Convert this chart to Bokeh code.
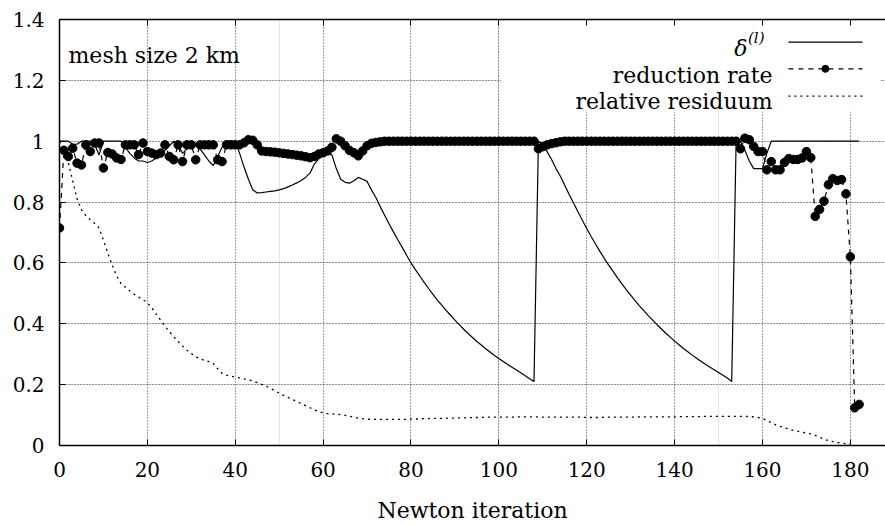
from bokeh.plotting import figure
from bokeh.models import LinearAxis, FixedTicker, Range1d, Grid
from bokeh.core.properties import value
from bokeh.embed import file_html
from bokeh.resources import INLINE

# ---------------- data ----------------
delta = [
    1.0, 1.0, 1.0, 0.99, 0.99, 1.0, 1.0, 1.0, 0.99, 0.955,
    1.0, 1.0, 1.0, 1.0, 1.0, 0.98, 0.96, 0.945, 0.935, 0.935,
    0.93, 0.935, 0.945, 0.955, 0.97, 0.985, 1.0, 0.99, 0.96, 0.975,
    0.99, 0.99, 0.975, 0.955, 0.935, 0.92, 0.95, 0.98, 1.0, 1.0,
    1.0, 0.96, 0.915, 0.875, 0.84, 0.83, 0.831, 0.833, 0.835, 0.837,
    0.84, 0.844, 0.85, 0.856, 0.863, 0.871, 0.881, 0.895, 0.925, 0.942,
    0.952, 0.958, 0.955, 0.91, 0.875, 0.865, 0.862, 0.87, 0.881, 0.875,
    0.868, 0.84, 0.815, 0.785, 0.757, 0.729, 0.702, 0.676, 0.651, 0.625,
    0.60, 0.578, 0.557, 0.536, 0.516, 0.497, 0.478, 0.461, 0.444, 0.428,
    0.412, 0.397, 0.382, 0.368, 0.355, 0.342, 0.330, 0.318, 0.307, 0.296,
    0.286, 0.276, 0.266, 0.257, 0.248, 0.239, 0.229, 0.219, 0.21, 1.0,
    0.99, 0.965, 0.94, 0.91, 0.885, 0.855, 0.825, 0.797, 0.768, 0.74,
    0.713, 0.687, 0.662, 0.638, 0.615, 0.593, 0.572, 0.551, 0.531, 0.512,
    0.494, 0.476, 0.459, 0.443, 0.427, 0.412, 0.397, 0.383, 0.369, 0.356,
    0.343, 0.331, 0.319, 0.308, 0.297, 0.287, 0.277, 0.267, 0.258, 0.249,
    0.240, 0.231, 0.222, 0.21, 1.0, 1.0, 0.97, 0.935, 0.91, 0.91,
    0.91, 0.96, 1.0, 1.0, 1.0, 1.0, 1.0, 1.0, 1.0, 1.0,
    1.0, 1.0, 1.0, 1.0, 1.0, 1.0, 1.0, 1.0, 1.0, 1.0,
    1.0, 1.0, 1.0,
]

reduction_rate = [
    0.715, 0.97, 0.95, 0.977, 0.928, 0.922, 0.988, 0.966, 0.994, 0.994,
    0.912, 0.963, 0.958, 0.945, 0.94, 0.988, 0.988, 0.988, 0.956, 0.994,
    0.966, 0.961, 0.956, 0.961, 0.988, 0.95, 0.939, 0.988, 0.933, 0.988,
    0.988, 0.939, 0.988, 0.988, 0.988, 0.988, 0.939, 0.933, 0.988, 0.988,
    0.988, 0.988, 0.995, 1.005, 1.003, 0.988, 0.968, 0.966, 0.965, 0.964,
    0.962, 0.96, 0.958, 0.956, 0.954, 0.952, 0.949, 0.946, 0.95, 0.958,
    0.962, 0.968, 0.98, 1.008, 1.0, 0.985, 0.97, 0.962, 0.952, 0.968,
    0.985, 0.993, 0.996, 0.998, 1.0, 1.0, 1.0, 1.0, 1.0, 1.0,
    1.0, 1.0, 1.0, 1.0, 1.0, 1.0, 1.0, 1.0, 1.0, 1.0,
    1.0, 1.0, 1.0, 1.0, 1.0, 1.0, 1.0, 1.0, 1.0, 1.0,
    1.0, 1.0, 1.0, 1.0, 1.0, 1.0, 1.0, 1.0, 1.0, 0.975,
    0.982, 0.988, 0.992, 0.995, 0.998, 1.0, 1.0, 1.0, 1.0, 1.0,
    1.0, 1.0, 1.0, 1.0, 1.0, 1.0, 1.0, 1.0, 1.0, 1.0,
    1.0, 1.0, 1.0, 1.0, 1.0, 1.0, 1.0, 1.0, 1.0, 1.0,
    1.0, 1.0, 1.0, 1.0, 1.0, 1.0, 1.0, 1.0, 1.0, 1.0,
    1.0, 1.0, 1.0, 1.0, 1.0, 0.975, 1.01, 1.005, 0.983, 0.966,
    0.966, 0.906, 0.933, 0.906, 0.906, 0.93, 0.943, 0.94, 0.94, 0.945,
    0.966, 0.946, 0.753, 0.776, 0.803, 0.857, 0.877, 0.871, 0.874, 0.827,
    0.62, 0.124, 0.135,
]

relative_residuum = [
    1.0, 0.98, 0.93, 0.87, 0.81, 0.775, 0.755, 0.742, 0.73, 0.715,
    0.675, 0.632, 0.592, 0.558, 0.532, 0.52, 0.508, 0.497, 0.488, 0.479,
    0.47, 0.452, 0.432, 0.412, 0.392, 0.374, 0.358, 0.342, 0.327, 0.313,
    0.302, 0.292, 0.285, 0.28, 0.276, 0.27, 0.252, 0.237, 0.231, 0.228,
    0.225, 0.222, 0.219, 0.216, 0.212, 0.207, 0.201, 0.195, 0.188, 0.18,
    0.172, 0.165, 0.158, 0.151, 0.145, 0.138, 0.131, 0.124, 0.117, 0.111,
    0.107, 0.105, 0.104, 0.103, 0.101, 0.099, 0.096, 0.093, 0.09, 0.088,
    0.087, 0.086, 0.086, 0.086, 0.086, 0.086, 0.086, 0.086, 0.086, 0.086,
    0.087, 0.087, 0.088, 0.088, 0.088, 0.089, 0.089, 0.089, 0.09, 0.09,
    0.09, 0.091, 0.091, 0.091, 0.092, 0.092, 0.092, 0.093, 0.093, 0.093,
    0.093, 0.093, 0.093, 0.093, 0.094, 0.094, 0.094, 0.094, 0.094, 0.094,
    0.093, 0.093, 0.093, 0.093, 0.093, 0.093, 0.093, 0.093, 0.093, 0.093,
    0.092, 0.092, 0.092, 0.092, 0.093, 0.093, 0.093, 0.093, 0.093, 0.093,
    0.093, 0.093, 0.094, 0.094, 0.094, 0.094, 0.094, 0.094, 0.094, 0.094,
    0.094, 0.095, 0.095, 0.095, 0.095, 0.095, 0.095, 0.096, 0.096, 0.096,
    0.096, 0.096, 0.096, 0.096, 0.096, 0.096, 0.096, 0.095, 0.094, 0.092,
    0.089, 0.082, 0.075, 0.068, 0.063, 0.058, 0.054, 0.05, 0.047, 0.044,
    0.041, 0.038, 0.033, 0.027, 0.021, 0.016, 0.013, 0.01, 0.008, 0.006,
    0.004,
]

x_ticks = [0, 20, 40, 60, 80, 100, 120, 140, 160, 180]
y_ticks = [0, 0.2, 0.4, 0.6, 0.8, 1.0, 1.2, 1.4]
y_tick_labels = ["0", "0.2", "0.4", "0.6", "0.8", "1", "1.2", "1.4"]

legend_delta = "δ"
legend_delta_sup = "(l)"
legend_rate = "reduction rate"
legend_resid = "relative residuum"
mesh_label = "mesh size 2 km"
x_label = "Newton iteration"

FONT = "DejaVu Serif"
TICK_SIZE = "20px"
TEXT_SIZE = "22px"

# ---------------- figure ----------------
p = figure(width=885, height=525,
           x_range=Range1d(0, 188.0), y_range=Range1d(0, 1.4),
           output_backend="svg", toolbar_location=None,
           x_axis_location=None, y_axis_location=None,
           min_border_left=59, min_border_right=0,
           min_border_top=19, min_border_bottom=80)
p.outline_line_color = None
p.background_fill_color = "white"
p.border_fill_color = "white"

for dim, ticks in ((0, x_ticks), (1, y_ticks)):
    g = Grid(dimension=dim, ticker=FixedTicker(ticks=ticks),
             grid_line_color="#444444", grid_line_dash="1 2",
             grid_line_width=1)
    p.add_layout(g)


def style_axis(ax, labels=True):
    ax.axis_line_color = "black"
    ax.axis_line_width = 1.5
    ax.major_tick_in = 6
    ax.major_tick_out = 0
    ax.major_tick_line_color = "black"
    ax.major_tick_line_width = 1
    ax.minor_tick_line_color = None
    if labels:
        ax.major_label_text_font = FONT
        ax.major_label_text_font_size = TICK_SIZE
        ax.major_label_text_color = "black"
    else:
        ax.major_label_text_font_size = "1px"
        ax.major_label_text_color = None
        ax.major_label_standoff = 0


xa = LinearAxis(ticker=FixedTicker(ticks=x_ticks), axis_label=x_label)
style_axis(xa)
xa.major_label_standoff = 16
xa.axis_label_text_font = FONT
xa.axis_label_text_font_size = TEXT_SIZE
xa.axis_label_text_font_style = "normal"
xa.axis_label_text_color = "black"
xa.axis_label_standoff = 18
p.add_layout(xa, "below")

ya = LinearAxis(ticker=FixedTicker(ticks=y_ticks),
                major_label_overrides=dict(zip(y_ticks, y_tick_labels)))
style_axis(ya)
ya.major_label_standoff = 15
p.add_layout(ya, "left")

ta = LinearAxis(ticker=FixedTicker(ticks=x_ticks))
style_axis(ta, labels=False)
p.add_layout(ta, "above")

# blank key area (grid hidden behind the key)
p.quad(left=[100.5], right=[186.9], bottom=[1.097], top=[1.4],
       fill_color="white", line_color=None)

# ---------------- series ----------------
xd = list(range(len(delta)))
xr = list(range(len(reduction_rate)))
xs = list(range(len(relative_residuum)))

p.line(xs, relative_residuum, line_color="black", line_width=1.3,
       line_dash="2 4")
p.line(xd, delta, line_color="black", line_width=1.2)
p.line(xr, reduction_rate, line_color="black", line_width=1.2,
       line_dash="5 5")
p.scatter(xr, reduction_rate, size=8.5, marker="circle",
          fill_color="black", line_color="black")

# ---------------- key ----------------
kx_text = 162.3
kx0, kx1 = 165.9, 182.75
p.text(x=[156.6], y=[1.3046], text=[legend_delta],
       text_font=value(FONT), text_font_size=value(TEXT_SIZE),
       text_font_style="italic", text_align="right",
       text_baseline="alphabetic", text_color="black")
p.text(x=[156.7], y=[1.338], text=[legend_delta_sup],
       text_font=value(FONT), text_font_size=value("15px"),
       text_font_style="italic", text_align="left",
       text_baseline="alphabetic", text_color="black")
p.text(x=[kx_text, kx_text], y=[1.2176, 1.1305],
       text=[legend_rate, legend_resid],
       text_font=value(FONT), text_font_size=value(TEXT_SIZE),
       text_align="right", text_baseline="alphabetic", text_color="black")

p.line([kx0, kx1], [1.3254, 1.3254], line_color="black", line_width=1.2)
p.line([kx0, kx1], [1.2379, 1.2379], line_color="black", line_width=1.2,
       line_dash="5 5")
p.scatter([(kx0 + kx1) / 2], [1.2379], size=7, marker="circle",
          fill_color="black", line_color="black")
p.line([kx0, kx1], [1.1479, 1.1479], line_color="black", line_width=1.3,
       line_dash="2 4")

p.text(x=[2.05], y=[1.2816], text=[mesh_label],
       text_font=value(FONT), text_font_size=value(TEXT_SIZE),
       text_align="left", text_baseline="alphabetic", text_color="black")

open("out.html", "w").write(file_html(p, INLINE))
